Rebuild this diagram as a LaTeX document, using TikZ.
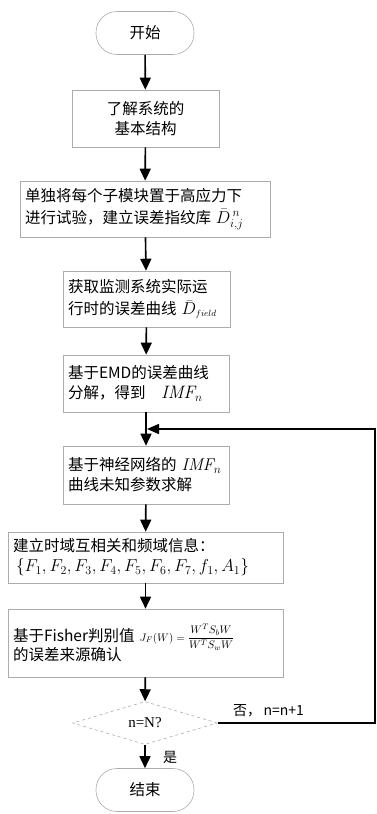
\documentclass[tikz,border=0pt]{standalone}
\usepackage{amsmath}
\usepackage{fontspec}
\newfontfamily\cjk{Noto Sans CJK SC}
\newfontfamily\tnr{Liberation Serif}
\usetikzlibrary{arrows.meta,shapes.geometric}
\begin{document}
\begin{tikzpicture}[x=1pt,y=-1pt,
  box/.style={draw=gray!65, line width=0.6pt, rectangle, inner xsep=5pt, inner ysep=0pt,
    font=\cjk\fontsize{15.5}{20}\selectfont, align=left},
  term/.style={draw=gray!65, line width=0.6pt, rectangle, rounded corners=21pt,
    minimum width=98pt, minimum height=43pt, font=\cjk\fontsize{15.5}{20}\selectfont},
  dec/.style={draw=gray!65, line width=0.6pt, dashed, diamond, aspect=3.4, inner sep=0pt,
    minimum width=145pt, minimum height=43pt, font=\tnr\fontsize{15}{18}\selectfont},
  flow/.style={-{Triangle[width=11pt,length=12pt]}, line width=1.6pt},
  lbl/.style={font=\cjk\fontsize{14}{16}\selectfont, inner sep=0pt}]
\useasboundingbox (0,0) rectangle (376,814);

\node[term] (start) at (145,33) {开始};
\node[box, minimum width=147pt, minimum height=57pt, align=center] (s1) at (145.5,118.5) {了解系统的\\基本结构};
\node[box, minimum width=250pt, minimum height=56pt, text width=240pt] (s2) at (145,209)
  {单独将每个子模块置于高应力下\\[2pt]进行试验，建立误差指纹库\hspace{5pt}{\fontsize{18}{20}\selectfont$\bar{D}^{\,n}_{i,j}$}};
\node[box, minimum width=165pt, minimum height=56pt, text width=157pt] (s3) at (146.5,299)
  {获取监测系统实际运\\[2pt]行时的误差曲线\hspace{5pt}{\fontsize{18}{20}\selectfont$\bar{D}_{\scriptscriptstyle field}$}};
\node[box, minimum width=166pt, minimum height=57pt, text width=156pt] (s4) at (146,383.5)
  {基于EMD的误差曲线\\分解，得到\quad {\fontsize{18}{20}\selectfont$\mathit{IMF}_n$}};
\node[box, minimum width=166pt, minimum height=58pt, text width=156pt] (s5) at (146,475)
  {基于神经网络的 {\fontsize{17}{20}\selectfont$\mathit{IMF}_n$}\\曲线未知参数求解};
\node[box, minimum width=275pt, minimum height=51pt, text width=265pt] (s6) at (145.5,557.5)
  {建立时域互相关和频域信息：\\[0pt]
   \hspace*{3pt}{\fontsize{18}{20}\selectfont$\left\{F_1,F_2,F_3,F_4,F_5,F_6,F_7,f_1,A_1\right\}$}};
\node[box, minimum width=275pt, minimum height=68pt, text width=265pt] (s7) at (145.5,643)
  {基于Fisher判别值 {\fontsize{11}{12}\selectfont$J_F(W)=\dfrac{W^{T}S_{b}W}{W^{T}S_{w}W}$}\\[-4pt]的误差来源确认\\[6pt]};
\node[dec] (d) at (145,723) {n=N?};
\node[term] (end) at (145,790) {结束};

\coordinate (m) at (145,429);
\coordinate (r1) at (375,723);
\coordinate (r2) at (375,429);

\draw[flow] (start) -- (s1);
\draw[flow] (s1) -- (s2);
\draw[flow] (s2) -- (s3);
\draw[flow] (s3) -- (s4);
\draw[flow] (s4) -- (s5);
\draw[flow] (s5) -- (s6);
\draw[flow] (s6) -- (s7);
\draw[flow] (s7) -- (d);
\draw[flow] (d) -- (end);
\draw[line width=1.5pt, -{Triangle[width=10pt,length=12pt]}] (d.east) -- (r1) -- (r2) -- ([xshift=2pt]m);

\node[lbl, anchor=west] (no) at (233,711) {否，\,n=n+1};
\node[lbl, anchor=west] (yes) at (163,757) {是};
\end{tikzpicture}
\end{document}
